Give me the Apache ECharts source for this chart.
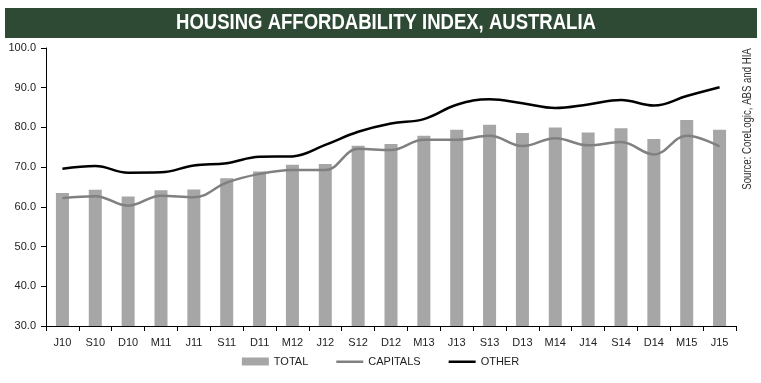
<!DOCTYPE html>
<html><head><meta charset="utf-8">
<script src="https://cdn.jsdelivr.net/npm/echarts@6/dist/echarts.min.js"></script>
<style>html,body{margin:0;padding:0;background:#fff}#c{width:761px;height:383px}</style>
</head><body><div id="c"></div>
<script>
const categories = ['J10','S10','D10','M11','J11','S11','D11','M12','J12','S12','D12','M13','J13','S13','D13','M14','J14','S14','D14','M15','J15'];
const total    = [63.5,64.3,62.6,64.2,64.4,67.2,68.9,70.6,70.8,75.4,75.8,77.9,79.4,80.7,78.6,80.0,78.7,79.8,77.1,81.9,79.4];
const capitals = [62.2,62.7,60.3,62.8,62.4,66.1,68.3,69.3,69.3,74.6,74.3,76.9,76.9,77.9,75.3,77.3,75.5,76.3,73.2,77.9,75.2];
const other    = [69.6,70.3,68.6,68.7,70.4,71.0,72.6,72.7,75.6,78.9,81.0,82.1,85.7,87.1,86.1,84.9,85.8,86.9,85.5,87.9,90.1];
const titleText = 'HOUSING AFFORDABILITY INDEX, AUSTRALIA';
const sourceText = 'Source: CoreLogic, ABS and HIA';

const FF = "'Liberation Sans',Arial,sans-serif";
const chart = echarts.init(document.getElementById('c'), null, {renderer:'canvas'});
chart.setOption({
  animation:false,
  backgroundColor:'#fff',
  textStyle:{fontFamily:FF},
  graphic:[
    {type:'rect', shape:{x:5,y:8,width:752,height:30}, style:{fill:'#2E4A35'}, z:0},
    {type:'text', x:386, y:23, scaleX:0.842, style:{text:titleText, fill:'#fff', font:"bold 22px "+FF, align:'center', verticalAlign:'middle'}, z:1},
    {type:'text', x:748, y:119, rotation:Math.PI/2, scaleX:0.8, style:{text:sourceText, fill:'#333', font:"12px "+FF, align:'center', verticalAlign:'middle'}}
  ],
  grid:{left:46,right:25,top:48,bottom:57},
  legend:{
    bottom:11, left:'center', itemWidth:27, itemHeight:8, itemGap:28,
    textStyle:{fontFamily:FF,fontSize:11,color:'#222'},
    data:[
      {name:'TOTAL', icon:'rect'},
      {name:'CAPITALS', icon:'path://M0,0M0,3h27v2.5h-27zM27,8'},
      {name:'OTHER', icon:'path://M0,0M0,3h27v2.5h-27zM27,8'}
    ]
  },
  xAxis:{
    type:'category', data:categories, boundaryGap:true,
    axisLine:{lineStyle:{color:'#000',width:1}},
    axisTick:{show:true,length:5,lineStyle:{color:'#000'}},
    axisLabel:{color:'#222',fontSize:11,fontFamily:FF,margin:11,interval:0}
  },
  yAxis:{
    type:'value', min:30, max:100, interval:10,
    axisLine:{show:true,lineStyle:{color:'#000',width:1}},
    axisTick:{show:true,length:5,lineStyle:{color:'#000'}},
    splitLine:{show:false},
    axisLabel:{color:'#222',fontSize:11,fontFamily:FF,margin:10,formatter:v=>v.toFixed(1)}
  },
  series:[
    {name:'TOTAL', type:'bar', data:total, barWidth:13, itemStyle:{color:'#A6A6A6'}},
    {name:'CAPITALS', type:'line', data:capitals, smooth:0.4, symbol:'none', lineStyle:{color:'#808080',width:2.5}, itemStyle:{color:'#808080'}},
    {name:'OTHER', type:'line', data:other, smooth:0.4, symbol:'none', lineStyle:{color:'#000',width:2.5}, itemStyle:{color:'#000'}}
  ]
});
</script></body></html>
